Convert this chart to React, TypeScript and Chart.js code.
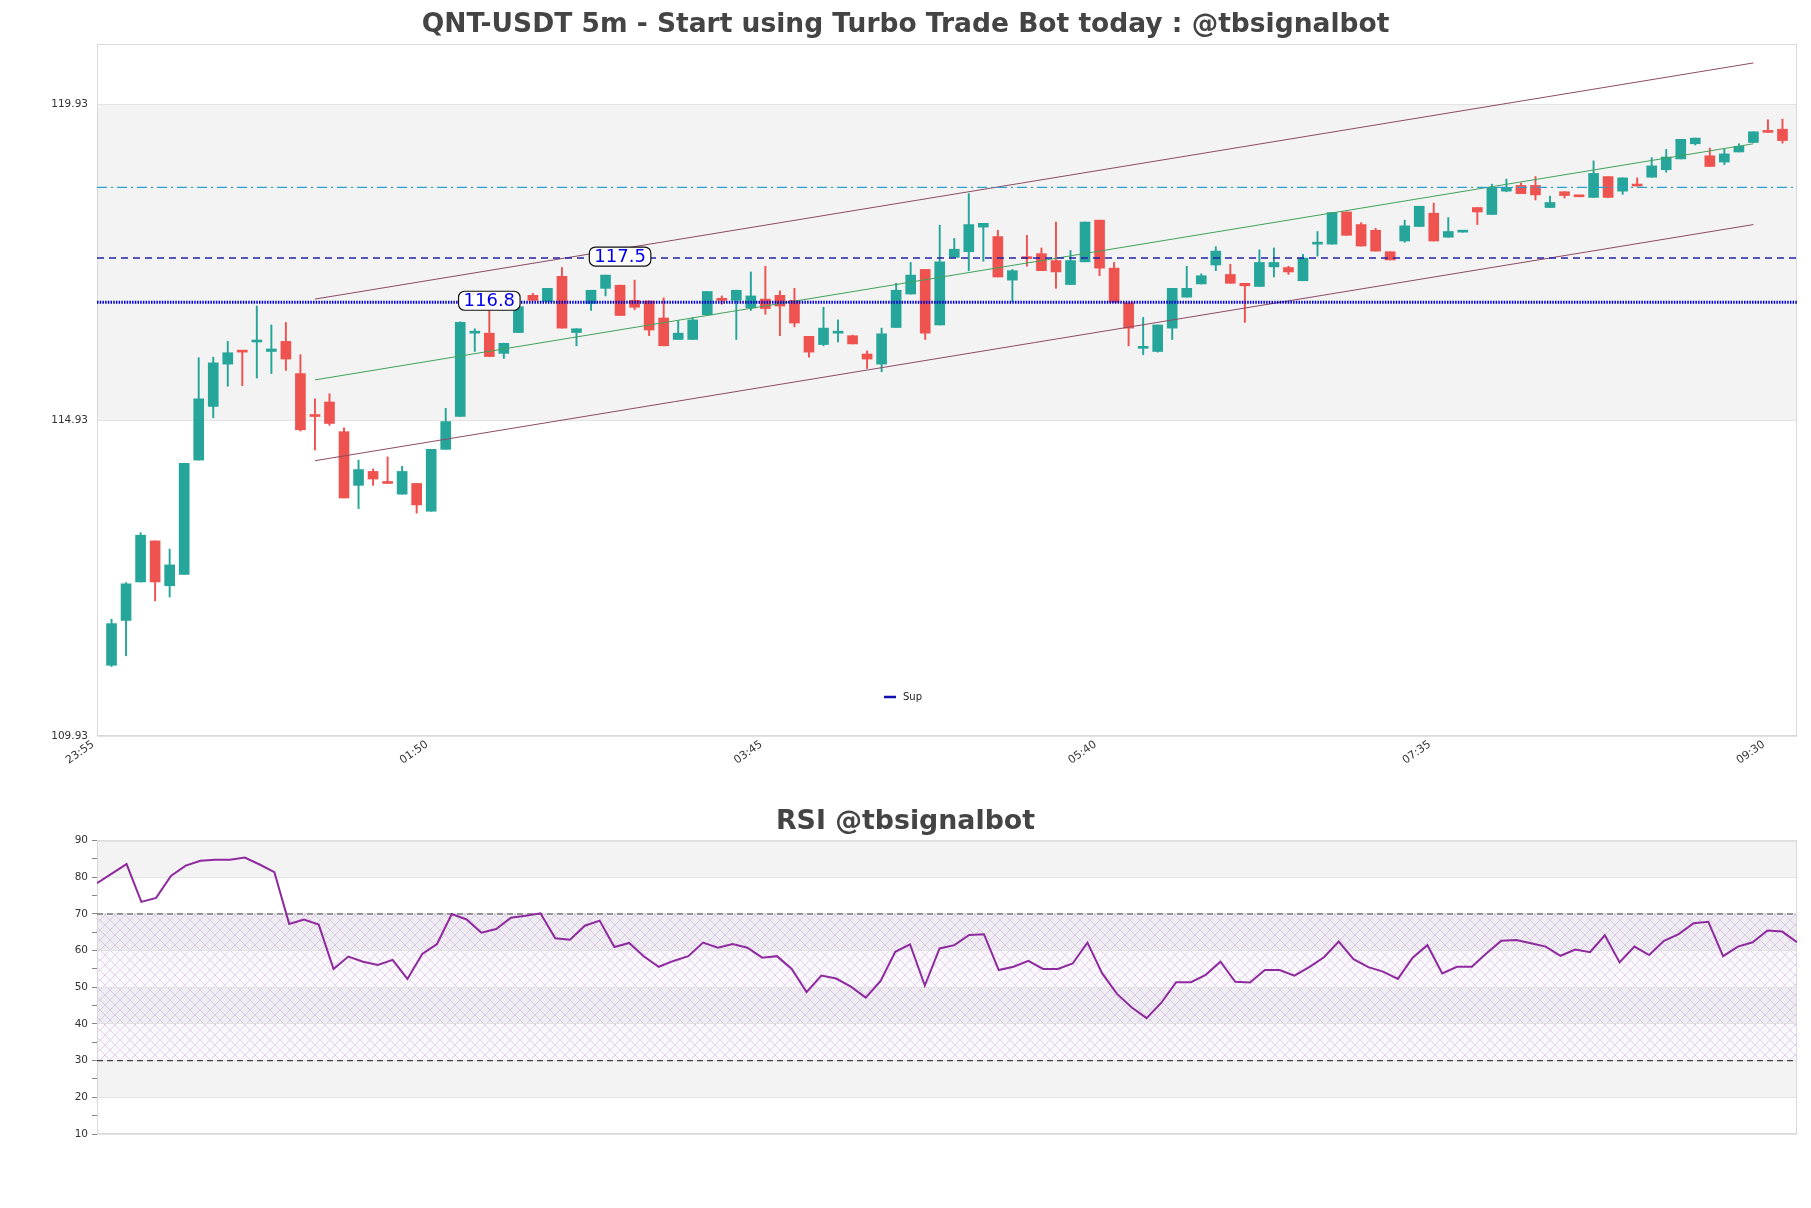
import React, { useEffect, useRef } from 'react';
import { Chart, registerables } from 'chart.js';

Chart.register(...registerables);

// ---------- data ----------
const xTickPositions = [-1, 22, 45, 68, 91, 114];
const xTickLabels = ['23:55', '01:50', '03:45', '05:40', '07:35', '09:30'];
const yTickValues = [109.93, 114.93, 119.93];
const yMin = 109.93;
const yMax = 120.89;
const xMin = -1;
const xMax = 116;

const candleOpen = [
  111.05, 111.76, 112.37, 113.02, 112.31, 112.49, 114.30, 115.15, 115.82, 116.03,
  116.17, 116.02, 116.18, 115.67, 115.02, 115.22, 114.75, 113.90, 114.12, 113.94,
  113.76, 113.93, 113.49, 114.47, 114.99, 116.31, 116.31, 115.99, 116.32, 116.91,
  116.81, 117.21, 116.32, 116.78, 117.02, 117.07, 116.83, 116.82, 116.55, 116.21,
  116.21, 116.60, 116.85, 116.83, 116.71, 116.85, 116.91, 116.83, 116.26, 116.13,
  116.31, 116.27, 115.98, 115.82, 116.40, 116.93, 117.32, 116.44, 117.51, 117.60,
  117.99, 117.84, 117.15, 117.52, 117.57, 117.46, 117.08, 117.44, 118.10, 117.34,
  116.79, 116.07, 116.02, 116.39, 116.88, 117.09, 117.39, 117.24, 117.10, 117.05,
  117.36, 117.35, 117.14, 117.72, 117.72, 118.23, 118.03, 117.94, 117.60, 117.77,
  118.00, 118.21, 117.83, 117.91, 118.30, 118.19, 118.56, 118.65, 118.65, 118.30,
  118.55, 118.48, 118.46, 118.79, 118.56, 118.65, 118.78, 118.90, 119.07, 119.31,
  119.12, 119.02, 119.18, 119.33, 119.50, 119.54,
];
const candleHigh = [
  111.78, 112.36, 113.15, 113.02, 112.89, 114.25, 115.92, 115.93, 116.18, 116.03,
  116.74, 116.44, 116.48, 115.97, 115.27, 115.35, 114.81, 114.30, 114.16, 114.35,
  114.20, 113.93, 114.47, 115.12, 116.49, 116.38, 116.70, 116.15, 116.73, 116.94,
  117.02, 117.35, 116.38, 116.99, 117.23, 117.07, 117.15, 116.82, 116.87, 116.51,
  116.56, 116.97, 116.90, 116.99, 117.28, 117.37, 116.98, 117.02, 116.26, 116.72,
  116.52, 116.28, 116.03, 116.39, 117.10, 117.43, 117.32, 118.02, 117.81, 118.52,
  118.05, 117.94, 117.32, 117.86, 117.66, 118.07, 117.62, 118.07, 118.10, 117.43,
  116.79, 116.56, 116.44, 117.02, 117.37, 117.25, 117.68, 117.40, 117.10, 117.63,
  117.66, 117.37, 117.56, 117.92, 118.22, 118.23, 118.06, 117.97, 117.60, 118.10,
  118.32, 118.37, 118.14, 117.92, 118.30, 118.67, 118.75, 118.69, 118.79, 118.48,
  118.55, 118.48, 119.04, 118.79, 118.77, 118.77, 119.09, 119.22, 119.38, 119.40,
  119.24, 119.23, 119.31, 119.50, 119.69, 119.70,
];
const candleLow = [
  111.03, 111.20, 112.37, 112.07, 112.13, 112.49, 114.30, 114.97, 115.47, 115.48,
  115.60, 115.67, 115.72, 114.76, 114.46, 114.85, 113.70, 113.53, 113.90, 113.93,
  113.76, 113.46, 113.49, 114.47, 114.99, 116.02, 115.94, 115.91, 116.32, 116.83,
  116.81, 116.39, 116.11, 116.67, 116.90, 116.59, 116.68, 116.27, 116.11, 116.21,
  116.21, 116.60, 116.77, 116.21, 116.67, 116.61, 116.27, 116.41, 115.93, 116.11,
  116.17, 116.14, 115.75, 115.70, 116.40, 116.93, 116.21, 116.44, 117.51, 117.30,
  117.45, 117.20, 116.81, 117.37, 117.30, 117.02, 117.08, 117.44, 117.22, 116.80,
  116.11, 115.97, 116.01, 116.21, 116.88, 117.09, 117.30, 117.10, 116.48, 117.05,
  117.20, 117.24, 117.14, 117.53, 117.72, 117.86, 117.69, 117.61, 117.47, 117.75,
  118.00, 117.77, 117.83, 117.91, 118.03, 118.19, 118.55, 118.52, 118.42, 118.30,
  118.45, 118.47, 118.46, 118.46, 118.51, 118.64, 118.78, 118.86, 119.07, 119.29,
  118.95, 118.98, 119.18, 119.33, 119.49, 119.32,
];
const candleClose = [
  111.71, 112.34, 113.11, 112.37, 112.64, 114.25, 115.27, 115.84, 116.00, 116.01,
  116.18, 116.06, 115.90, 114.78, 114.99, 114.88, 113.70, 114.15, 114.00, 113.93,
  114.12, 113.59, 114.47, 114.91, 116.48, 116.32, 115.94, 116.15, 116.73, 116.83,
  117.02, 116.39, 116.38, 116.99, 117.23, 116.59, 116.72, 116.36, 116.11, 116.31,
  116.52, 116.97, 116.83, 116.99, 116.90, 116.70, 116.74, 116.47, 116.01, 116.39,
  116.33, 116.14, 115.90, 116.30, 116.99, 117.23, 116.31, 117.44, 117.64, 118.03,
  118.05, 117.20, 117.30, 117.49, 117.30, 117.28, 117.46, 118.07, 117.34, 116.80,
  116.39, 116.09, 116.44, 117.02, 117.02, 117.22, 117.61, 117.10, 117.06, 117.43,
  117.43, 117.28, 117.50, 117.73, 118.22, 117.86, 117.69, 117.61, 117.47, 118.01,
  118.32, 117.77, 117.92, 117.92, 118.23, 118.62, 118.62, 118.52, 118.50, 118.38,
  118.49, 118.47, 118.84, 118.46, 118.77, 118.64, 118.96, 119.10, 119.38, 119.40,
  118.95, 119.15, 119.27, 119.50, 119.49, 119.36,
];

const supLevel = 116.8;
const resLevel = 117.5;
const upperLevel = 118.62;
const levelLabelX = [26, 35];
const levelLabelValue = [116.8, 117.5];

const channelX = [14, 113];
const channelUpper = [116.85, 120.59];
const channelMid = [115.57, 119.31];
const channelLower = [114.29, 118.03];

const rsiValues = [
  78.4, 81.0, 83.6, 73.3, 74.4, 80.4, 83.2, 84.5, 84.8, 84.8,
  85.4, 83.5, 81.4, 67.3, 68.5, 67.1, 55.0, 58.4, 57.0, 56.1,
  57.5, 52.3, 59.1, 61.8, 70.0, 68.5, 64.9, 65.9, 69.0, 69.5,
  70.2, 63.4, 63.0, 66.8, 68.2, 61.0, 62.1, 58.4, 55.6, 57.2,
  58.5, 62.2, 60.8, 61.8, 60.8, 58.1, 58.5, 55.0, 48.7, 53.2,
  52.4, 50.2, 47.2, 51.7, 59.7, 61.7, 50.5, 60.6, 61.5, 64.3,
  64.5, 54.7, 55.6, 57.2, 55.0, 55.0, 56.5, 62.2, 53.8, 48.2,
  44.5, 41.6, 45.8, 51.4, 51.4, 53.4, 57.0, 51.5, 51.3, 54.7,
  54.7, 53.2, 55.5, 58.2, 62.5, 57.7, 55.5, 54.3, 52.3, 58.1,
  61.5, 53.8, 55.6, 55.6, 59.3, 62.7, 62.9, 62.0, 61.1, 58.6,
  60.3, 59.6, 64.2, 56.8, 61.1, 58.8, 62.7, 64.5, 67.5, 67.9,
  58.5, 61.1, 62.3, 65.5, 65.2, 62.3,
];
const rsiBandEdges = [10, 20, 30, 40, 50, 60, 70, 80, 90];
const rsiUpper = 70;
const rsiLower = 30;

// ---------- styles ----------
const UP = '#26a69a';
const DOWN = '#ef5350';
const FONT = 'DejaVu Sans';
const BAND = '#f3f3f3';
const GRID = '#e3e3e3';
const BORDER = '#d9d9d9';

Chart.defaults.font.family = FONT;

const bandsPlugin = {
  id: 'bands',
  beforeDraw(chart: any, _a: any, opts: any) {
    const { ctx, chartArea } = chart;
    const y = chart.scales.y;
    const edges: number[] = opts.edges || [];
    ctx.save();
    ctx.fillStyle = BAND;
    for (let k = 0; k < edges.length - 1; k++) {
      if (k % 2 === 1) {
        const y1 = y.getPixelForValue(edges[k + 1]);
        const y2 = y.getPixelForValue(edges[k]);
        ctx.fillRect(chartArea.left, y1, chartArea.right - chartArea.left, y2 - y1);
      }
    }
    if (opts.hatch) {
      const p = document.createElement('canvas');
      p.width = 10;
      p.height = 10;
      const pc = p.getContext('2d')!;
      pc.strokeStyle = 'rgba(180,140,205,0.5)';
      pc.lineWidth = 0.7;
      pc.beginPath();
      pc.moveTo(0, 0); pc.lineTo(10, 10);
      pc.moveTo(10, 0); pc.lineTo(0, 10);
      pc.stroke();
      const pat = ctx.createPattern(p, 'repeat');
      const y1 = y.getPixelForValue(opts.hatch[1]);
      const y2 = y.getPixelForValue(opts.hatch[0]);
      ctx.fillStyle = 'rgba(200,170,220,0.07)';
      ctx.fillRect(chartArea.left, y1, chartArea.right - chartArea.left, y2 - y1);
      ctx.fillStyle = pat;
      ctx.fillRect(chartArea.left, y1, chartArea.right - chartArea.left, y2 - y1);
    }
    ctx.restore();
  },
  beforeDatasetsDraw(chart: any) {
    const { ctx, chartArea } = chart;
    ctx.save();
    ctx.strokeStyle = BORDER;
    ctx.lineWidth = 1;
    ctx.strokeRect(chartArea.left + 0.5, chartArea.top + 0.5, chartArea.right - chartArea.left - 1, chartArea.bottom - chartArea.top - 1);
    ctx.restore();
  },
};

const levelLabelPlugin = {
  id: 'levelLabels',
  afterDatasetsDraw(chart: any, _a: any, opts: any) {
    if (!opts.xs) return;
    const { ctx } = chart;
    const xs = chart.scales.x;
    const ys = chart.scales.y;
    ctx.save();
    ctx.font = `18px ${FONT}`;
    ctx.textAlign = 'center';
    ctx.textBaseline = 'middle';
    opts.xs.forEach((xv: number, i: number) => {
      const v = opts.values[i];
      const text = v.toFixed(1);
      const px = xs.getPixelForValue(xv);
      const py = ys.getPixelForValue(v) - 1.5;
      const w = ctx.measureText(text).width + 10;
      const h = 19;
      ctx.beginPath();
      ctx.roundRect(px - w / 2, py - h / 2, w, h, 6);
      ctx.fillStyle = '#ffffff';
      ctx.fill();
      ctx.lineWidth = 1.2;
      ctx.strokeStyle = '#111111';
      ctx.stroke();
      ctx.fillStyle = '#0000ee';
      ctx.fillText(text, px, py + 1);
    });
    ctx.restore();
  },
  afterDraw(chart: any, _a: any, opts: any) {
    if (!opts.legend) return;
    const { ctx, chartArea } = chart;
    const ds = chart.data.datasets.find((d: any) => d.label === opts.legend);
    if (!ds) return;
    const cx = (chartArea.left + chartArea.right) / 2 - 57;
    const cy = chartArea.bottom - 39;
    ctx.save();
    ctx.strokeStyle = '#1010b0';
    ctx.lineWidth = 2.5;
    ctx.beginPath();
    ctx.moveTo(cx - 6, cy);
    ctx.lineTo(cx + 6, cy);
    ctx.stroke();
    ctx.fillStyle = '#222';
    ctx.font = `10px ${FONT}`;
    ctx.textBaseline = 'middle';
    ctx.fillText(ds.label, cx + 13, cy);
    ctx.restore();
  },
};

// invisible right-hand spacer axis so the title spans the full canvas width
const spacerAxis = {
  position: 'right',
  display: true,
  grid: { display: false, drawTicks: false },
  border: { display: false },
  ticks: { display: false },
  afterFit: (s: any) => { s.width = 14; },
};

function mainConfig(): any {
  const colors = candleClose.map((c, i) => (c >= candleOpen[i] ? UP : DOWN));
  const bodies = candleOpen.map((o, i) => ({ x: i, y: [o, candleClose[i]] }));
  const wicks = candleLow.map((l, i) => ({ x: i, y: [l, candleHigh[i]] }));
  const hline = (v: number) => [{ x: xMin, y: v }, { x: xMax, y: v }];
  const seg = (ys: number[]) => [{ x: channelX[0], y: ys[0] }, { x: channelX[1], y: ys[1] }];
  const lineBase = { type: 'line', pointRadius: 0, fill: false, order: 0, tension: 0 };
  return {
    type: 'bar',
    data: {
      datasets: [
        { ...lineBase, label: 'Sup', data: hline(supLevel), borderColor: '#0000cc', borderWidth: 3, borderDash: [1.5, 1.2] },
        { ...lineBase, label: 'Res', data: hline(resLevel), borderColor: '#2222aa', borderWidth: 1.4, borderDash: [7, 5] },
        { ...lineBase, label: 'High', data: hline(upperLevel), borderColor: '#2e9fd4', borderWidth: 1.2, borderDash: [10, 4, 2, 4] },
        { ...lineBase, label: 'ChUp', data: seg(channelUpper), borderColor: '#8d4a64', borderWidth: 1 },
        { ...lineBase, label: 'ChMid', data: seg(channelMid), borderColor: '#3fa35a', borderWidth: 1 },
        { ...lineBase, label: 'ChLow', data: seg(channelLower), borderColor: '#8d4a64', borderWidth: 1 },
        { type: 'bar', label: 'body', data: bodies, backgroundColor: colors, barThickness: 10, minBarLength: 2, grouped: false, order: 1, borderWidth: 0 },
        { type: 'bar', label: 'wick', data: wicks, backgroundColor: colors, barThickness: 1.3, grouped: false, order: 2, borderWidth: 0 },
      ],
    },
    options: {
      responsive: false,
      animation: false,
      layout: { padding: { left: 0, right: 0, top: 0, bottom: 0 } },
      plugins: {
        legend: { display: false },
        tooltip: { enabled: false },
        title: {
          display: true,
          text: 'QNT-USDT 5m - Start using Turbo Trade Bot today : @tbsignalbot',
          color: '#444444',
          font: { size: 26.5, weight: 'bold', family: FONT },
          padding: { top: 9.3, bottom: 2.9 },
        },
        bands: { edges: [...yTickValues, yMax] },
        levelLabels: { xs: levelLabelX, values: levelLabelValue, legend: 'Sup' },
      },
      scales: {
        x: {
          type: 'linear',
          min: xMin,
          max: xMax,
          offset: false,
          grid: { display: false, drawTicks: false },
          border: { display: false },
          afterBuildTicks: (s: any) => { s.ticks = xTickPositions.map((v) => ({ value: v })); },
          afterFit: (s: any) => { s.height = 54; },
          ticks: {
            autoSkip: false,
            minRotation: 35,
            maxRotation: 35,
            padding: 2,
            labelOffset: -4,
            color: '#333',
            font: { size: 11, family: FONT },
            callback: (_v: any, i: number) => xTickLabels[i],
          },
        },
        y: {
          type: 'linear',
          min: yMin,
          max: yMax,
          grid: { color: GRID, tickLength: 4, tickColor: 'transparent' },
          border: { display: false },
          afterBuildTicks: (s: any) => { s.ticks = yTickValues.map((v) => ({ value: v })); },
          afterFit: (s: any) => { s.width = 97; },
          ticks: {
            padding: 5,
            color: '#333',
            font: { size: 10.5, family: FONT },
            callback: (v: any) => Number(v).toFixed(2),
          },
        },
        yRight: { ...spacerAxis, min: yMin, max: yMax },
      },
    },
    plugins: [bandsPlugin, levelLabelPlugin],
  };
}

function rsiConfig(): any {
  const pts = rsiValues.map((v, i) => ({ x: i, y: v }));
  const last = rsiValues.length - 1;
  const hl = (v: number) => [{ x: 0, y: v }, { x: last, y: v }];
  return {
    type: 'line',
    data: {
      datasets: [
        { label: 'RSI', data: pts, borderColor: '#8e2a9e', borderWidth: 2, pointRadius: 0, tension: 0, fill: false },
        { label: 'OB', data: hl(rsiUpper), borderColor: '#444', borderWidth: 1.2, borderDash: [6, 4], pointRadius: 0 },
        { label: 'OS', data: hl(rsiLower), borderColor: '#444', borderWidth: 1.2, borderDash: [6, 4], pointRadius: 0 },
      ],
    },
    options: {
      responsive: false,
      animation: false,
      layout: { padding: { left: 0, right: 0, top: 0, bottom: 0 } },
      plugins: {
        legend: { display: false },
        tooltip: { enabled: false },
        title: {
          display: true,
          text: 'RSI @tbsignalbot',
          color: '#444444',
          font: { size: 26.8, weight: 'bold', family: FONT },
          padding: { top: 16.2, bottom: 2.3 },
        },
        bands: { edges: rsiBandEdges, hatch: [rsiLower, rsiUpper] },
      },
      scales: {
        x: {
          type: 'linear',
          min: 0,
          max: last,
          offset: false,
          grid: { display: false },
          border: { display: false },
          ticks: { display: false },
          afterFit: (s: any) => { s.height = 74; },
        },
        y: {
          type: 'linear',
          min: 10,
          max: 90,
          border: { display: false },
          grid: {
            color: (c: any) => (c.tick && c.tick.value % 10 === 0 ? GRID : 'transparent'),
            tickColor: '#888',
            tickLength: 5,
          },
          afterFit: (s: any) => { s.width = 97; },
          ticks: {
            stepSize: 5,
            padding: 4,
            color: '#333',
            font: { size: 10.5, family: FONT },
            callback: (v: any) => (Number(v) % 10 === 0 ? String(v) : ''),
          },
        },
        yRight: { ...spacerAxis, min: 10, max: 90 },
      },
    },
    plugins: [bandsPlugin],
  };
}

export default function App() {
  const mainRef = useRef<HTMLCanvasElement>(null);
  const rsiRef = useRef<HTMLCanvasElement>(null);
  useEffect(() => {
    const main = new Chart(mainRef.current as HTMLCanvasElement, mainConfig());
    const rsi = new Chart(rsiRef.current as HTMLCanvasElement, rsiConfig());
    return () => {
      main.destroy();
      rsi.destroy();
    };
  }, []);
  return (
    <div style={{ position: 'absolute', left: 0, top: 0, width: 1811, height: 1208, background: '#ffffff' }}>
      <canvas ref={mainRef} width={1811} height={790} style={{ position: 'absolute', left: 0, top: 0 }} />
      <canvas ref={rsiRef} width={1811} height={418} style={{ position: 'absolute', left: 0, top: 790 }} />
    </div>
  );
}
